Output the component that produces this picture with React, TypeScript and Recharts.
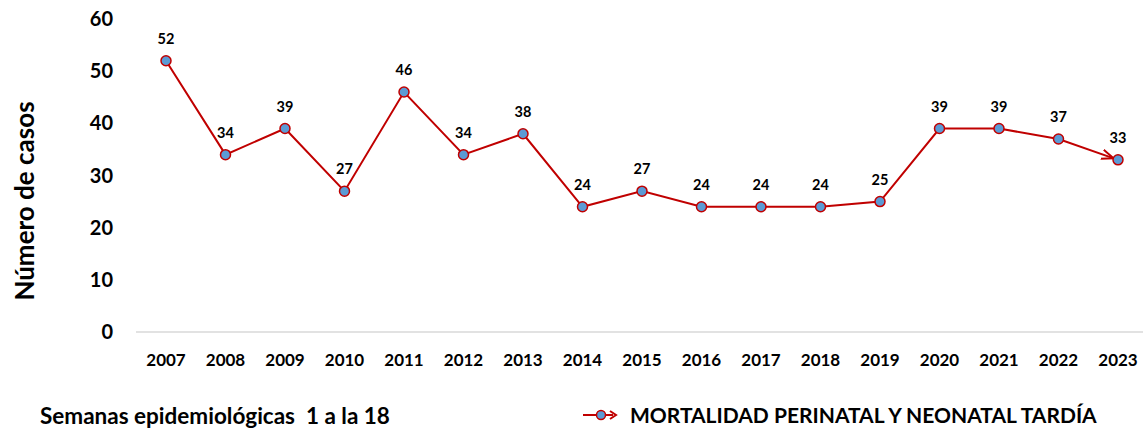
import { LineChart, Line, XAxis, YAxis, LabelList, Label } from "recharts"

// Semanas epidemiológicas 1 a la 18, casos por año
const years = [
  "2007", "2008", "2009", "2010", "2011", "2012", "2013", "2014", "2015",
  "2016", "2017", "2018", "2019", "2020", "2021", "2022", "2023",
]
const casos = [52, 34, 39, 27, 46, 34, 38, 24, 27, 24, 24, 24, 25, 39, 39, 37, 33]
const yTicks = [0, 10, 20, 30, 40, 50, 60]

const seriesName = "MORTALIDAD PERINATAL Y NEONATAL TARDÍA"
const footNote = "Semanas epidemiológicas  1 a la 18"
const yTitle = "Número de casos"

const data = years.map((year, i) => ({ year, casos: casos[i] }))

const FONT = "Lato, 'Open Sans', sans-serif"
const RED = "#c00000"
const BLUE = "#5b9bd5"

export default function App() {
  return (
    <div
      style={{
        position: "absolute",
        left: 0,
        top: 0,
        width: 1143,
        height: 432,
        overflow: "hidden",
        background: "#fff",
        fontFamily: FONT,
      }}
    >
      <LineChart
        width={1148}
        height={432}
        data={data}
        margin={{ top: 19, right: 0, bottom: 70, left: 56 }}
      >
        <defs>
          <marker
            id="flecha"
            viewBox="0 0 10 10"
            refX="14"
            refY="5"
            markerWidth="6"
            markerHeight="6"
            markerUnits="strokeWidth"
            orient="auto"
          >
            <path d="M0,1 L10,5 L0,9" fill="none" stroke={RED} strokeWidth={1.6} />
          </marker>
        </defs>

        <XAxis
          dataKey="year"
          height={30}
          padding={{ left: 30, right: 30 }}
          axisLine={{ stroke: "#d9d9d9", strokeWidth: 1.5 }}
          tickLine={false}
          tickMargin={16}
          interval={0}
          tick={{ fontSize: 17, fontWeight: 700, fill: "#000", fontFamily: FONT }}
        />

        <YAxis
          width={80}
          domain={[0, 60]}
          ticks={yTicks}
          axisLine={false}
          tickLine={false}
          tickMargin={17}
          tick={{ fontSize: 20, fontWeight: 700, fill: "#000", fontFamily: FONT }}
        >
          <Label
            content={() => (
              <text
                x={24}
                y={201}
                transform="rotate(-90, 24, 201)"
                textAnchor="middle"
                dominantBaseline="central"
                fontSize={26}
                fontWeight={700}
                fontFamily={FONT}
                fill="#000"
              >
                {yTitle}
              </text>
            )}
          />
        </YAxis>

        <Line
          type="linear"
          dataKey="casos"
          stroke={RED}
          strokeWidth={2}
          markerEnd="url(#flecha)"
          dot={{ r: 5, fill: BLUE, stroke: RED, strokeWidth: 1.5 }}
          activeDot={false}
          isAnimationActive={false}
        >
          <LabelList
            dataKey="casos"
            position="top"
            offset={17}
            style={{ fontSize: 14.5, fontWeight: 700, fill: "#000", fontFamily: FONT }}
          />
        </Line>
      </LineChart>

      {/* footer: note on the left, legend on the right */}
      <div
        style={{
          position: "absolute",
          left: 40,
          top: 402,
          fontSize: 22.5,
          fontWeight: 700,
          color: "#000",
          whiteSpace: "pre",
        }}
      >
        {footNote}
      </div>

      <div
        style={{
          position: "absolute",
          left: 583,
          top: 402,
          display: "flex",
          alignItems: "center",
          whiteSpace: "nowrap",
        }}
      >
        <svg width={40} height={20} style={{ marginRight: 7 }}>
          <line x1={0} y1={10} x2={30} y2={10} stroke={RED} strokeWidth={2} />
          <path d="M27,6 L33,10 L27,14" fill="none" stroke={RED} strokeWidth={2} />
          <circle cx={18} cy={10} r={4.5} fill={BLUE} stroke={RED} strokeWidth={1.5} />
        </svg>
        <span style={{ fontSize: 21, fontWeight: 700, color: "#000" }}>{seriesName}</span>
      </div>
    </div>
  )
}
